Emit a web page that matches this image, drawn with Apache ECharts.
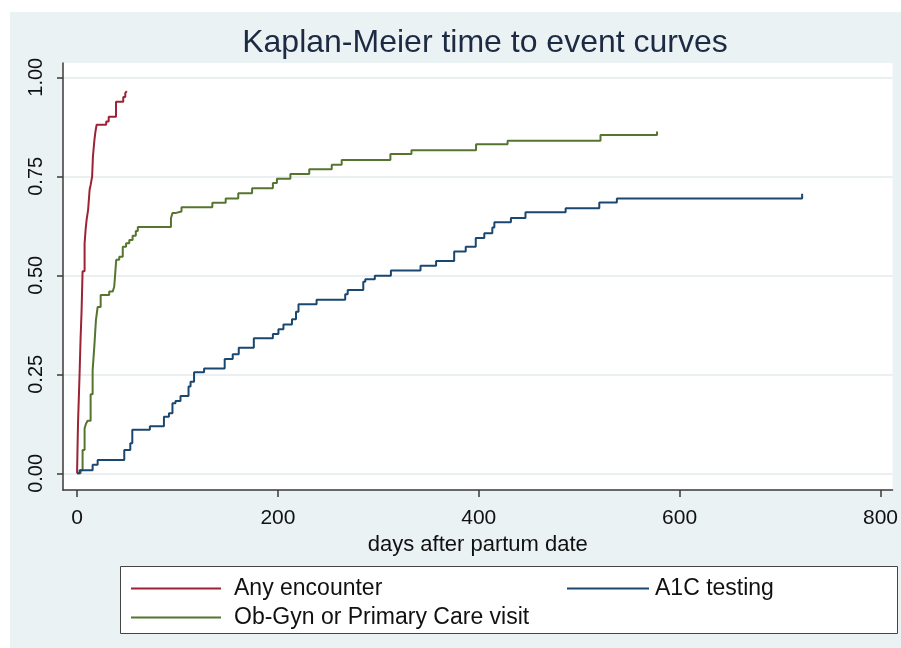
<!DOCTYPE html>
<html>
<head>
<meta charset="utf-8">
<script src="https://cdn.jsdelivr.net/npm/echarts@6/dist/echarts.min.js"></script>
<style>
html, body { margin: 0; padding: 0; background: #fff; }
#main { width: 901px; height: 648px; }
</style>
</head>
<body>
<div id="main"></div>
<script>
// cumulative share with an event, [days, value] at each step
var anyEncounter = [[0, 0], [0.5, 0.07], [1, 0.13], [2.5, 0.25], [3.5, 0.34], [4.5, 0.41], [5.5, 0.51], [7.5, 0.58],
    [8.5, 0.615], [9.5, 0.64], [11, 0.665], [12.5, 0.716], [13.5, 0.728], [15, 0.749], [15.8, 0.80], [17.3, 0.842],
    [18.3, 0.863], [19.5, 0.88], [29, 0.888], [31.5, 0.90], [38.8, 0.938], [46, 0.95], [48, 0.96], [49.5, 0.965]];
var obGynVisit = [[0, 0], [3.5, 0.008], [5.5, 0.059], [7.5, 0.114], [9, 0.126], [10.5, 0.133], [13.5, 0.20], [15.5, 0.26],
    [17.3, 0.325], [18.8, 0.387], [20.5, 0.42], [23.5, 0.45], [32, 0.459], [35.5, 0.463], [37, 0.471], [38, 0.505],
    [39, 0.539], [42, 0.547], [45.5, 0.572], [48.8, 0.581], [52, 0.589], [55.3, 0.60], [58.5, 0.612], [60.5, 0.622],
    [93.5, 0.644], [95, 0.657], [97.7, 0.661], [104, 0.672], [134.7, 0.683], [148, 0.694], [160.5, 0.707], [174.3, 0.72],
    [195, 0.733], [199, 0.744], [212.4, 0.756], [231.2, 0.768], [253.6, 0.779], [263.5, 0.791], [312, 0.806],
    [333, 0.816], [397.3, 0.831], [428.7, 0.84], [521.2, 0.854], [577.5, 0.863]];
var a1cTesting = [[0, 0], [2.5, 0.008], [15.5, 0.022], [20.5, 0.034], [47, 0.059], [53, 0.076], [55, 0.11], [72.5, 0.119],
    [86.5, 0.143], [91.5, 0.152], [95, 0.177], [98, 0.183], [103, 0.195], [111, 0.219], [113, 0.231], [116.5, 0.255],
    [126.5, 0.265], [147, 0.289], [155, 0.301], [161, 0.317], [176, 0.341], [195, 0.352], [200.5, 0.364], [205.5, 0.376],
    [214, 0.389], [218, 0.408], [220.5, 0.427], [238.5, 0.438], [267, 0.452], [269.5, 0.463], [285, 0.484], [287, 0.49],
    [296.5, 0.499], [312.5, 0.512], [342, 0.524], [357.5, 0.536], [375.5, 0.56], [387, 0.572], [397, 0.594],
    [405.5, 0.606], [413.5, 0.621], [415.5, 0.634], [432, 0.645], [446.5, 0.659], [486.5, 0.669], [520, 0.684],
    [537.5, 0.694], [722, 0.706]];
var xTicks = [0, 200, 400, 600, 800];
var yTicks = [0, 0.25, 0.5, 0.75, 1];

var font = "'Liberation Sans', Arial, sans-serif";
var axisColor = '#3a3a3a';

var myChart = echarts.init(document.getElementById('main'));

function kmSeries(name, data, color) {
    return {
        name: name,
        type: 'line',
        step: 'end',
        data: data,
        showSymbol: false,
        symbol: 'none',
        lineStyle: { color: color, width: 2 },
        itemStyle: { color: color },
        animation: false
    };
}

function legendFor(name, left, top, lineW, textPad) {
    return {
        data: [name],
        left: left,
        top: top,
        icon: 'rect',
        itemWidth: lineW,
        itemHeight: 2,
        itemGap: 0,
        textStyle: { fontFamily: font, fontSize: 23, color: '#111', padding: [0, 0, 0, textPad] },
        selectedMode: false
    };
}

var option = {
    backgroundColor: '#eaf2f3',
    animation: false,
    title: {
        text: 'Kaplan-Meier time to event curves',
        left: 480,
        top: 22,
        textAlign: 'center',
        textStyle: { fontFamily: font, fontSize: 32, fontWeight: 'normal', color: '#1c2a44' }
    },
    graphic: [
        { type: 'rect', shape: { x: 0, y: 0, width: 901, height: 12 }, style: { fill: '#fff' }, silent: true },
        { type: 'rect', shape: { x: 0, y: 0, width: 10, height: 648 }, style: { fill: '#fff' }, silent: true },
        { type: 'rect', z: 0, shape: { x: 120.5, y: 566.5, width: 777, height: 67 },
          style: { fill: '#fff', stroke: '#444', lineWidth: 1 }, silent: true }
    ],
    legend: [
        legendFor('Any encounter', 126, 572, 90, 8),
        legendFor('A1C testing', 562, 572, 82, 1),
        legendFor('Ob-Gyn or Primary Care visit', 126, 601, 90, 8)
    ],
    grid: {
        left: 63, right: 4, top: 63, bottom: 158,
        show: true, backgroundColor: '#fff', borderWidth: 0
    },
    xAxis: {
        type: 'value',
        min: -14,
        max: 812,
        name: 'days after partum date',
        nameLocation: 'middle',
        nameGap: 39,
        nameTextStyle: { fontFamily: font, fontSize: 22, color: '#111' },
        axisLine: { show: true, onZero: false, lineStyle: { color: axisColor, width: 1.5 } },
        axisTick: { show: true, length: 7, customValues: xTicks, lineStyle: { color: axisColor, width: 1.5 } },
        axisLabel: { customValues: xTicks, margin: 18, fontFamily: font, fontSize: 21, color: '#111' },
        splitLine: { show: false }
    },
    yAxis: {
        type: 'value',
        min: -0.042,
        max: 1.036,
        axisLine: { show: true, onZero: false, lineStyle: { color: axisColor, width: 1.5 } },
        axisTick: { show: true, length: 6, customValues: yTicks, lineStyle: { color: axisColor, width: 1.5 } },
        axisLabel: {
            customValues: yTicks,
            rotate: 90,
            margin: 17,
            fontFamily: font,
            fontSize: 20,
            color: '#111',
            formatter: function (v) { return v.toFixed(2); }
        },
        splitLine: { show: true, lineStyle: { color: '#e3ebee', width: 1.5 } }
    },
    series: [
        kmSeries('Any encounter', anyEncounter, '#9b2335'),
        kmSeries('Ob-Gyn or Primary Care visit', obGynVisit, '#55752f'),
        kmSeries('A1C testing', a1cTesting, '#1a476f')
    ]
};
myChart.setOption(option);
</script>
</body>
</html>
